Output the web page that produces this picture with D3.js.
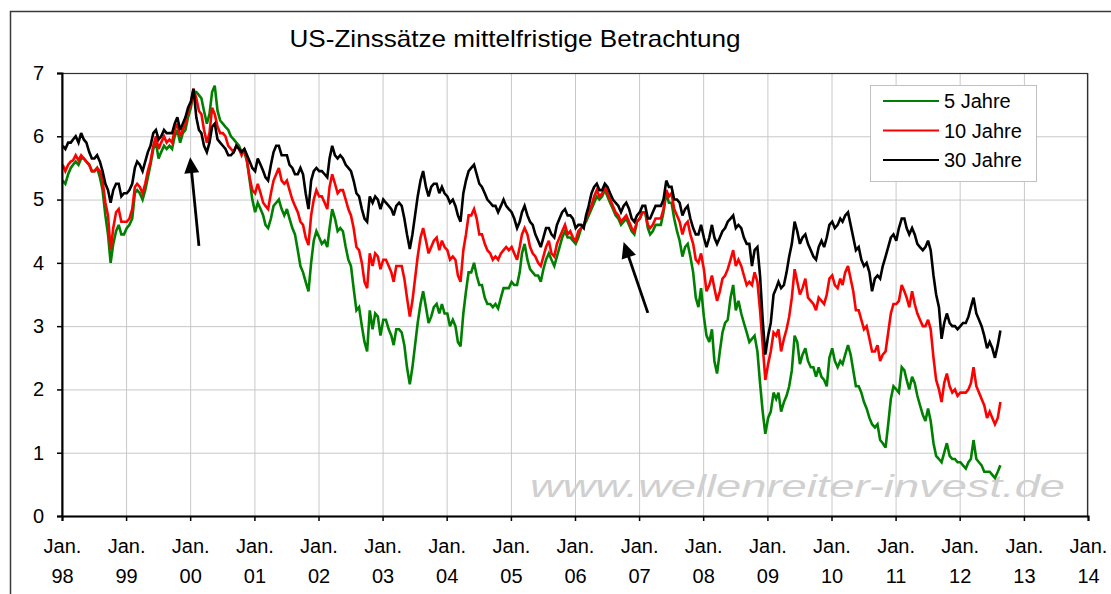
<!DOCTYPE html>
<html>
<head>
<meta charset="utf-8">
<script src="https://cdn.jsdelivr.net/npm/d3@7"></script>
<style>
  html, body { margin: 0; padding: 0; background: #fff; }
  svg { display: block; }
  text { font-family: "Liberation Sans", Arial, sans-serif; fill: #000; }
</style>
</head>
<body>
<svg id="chart" width="1111" height="594"></svg>
<script>
// ---- Data (half-monthly readings, ~5th and ~20th of each month, Jan 1998 - Aug 2012) ----
const title = "US-Zinssätze mittelfristige Betrachtung";
const seriesNames = ["5 Jahre", "10 Jahre", "30 Jahre"];
const startYear = 1998, endYear = 2014;
const lastDate = "2012-08-20";
const yTicks = [0, 1, 2, 3, 4, 5, 6, 7];
const xTickYears = [1998,1999,2000,2001,2002,2003,2004,2005,2006,2007,2008,2009,2010,2011,2012,2013,2014];
const xTickLabelTop = "Jan.";
const watermark = "www.wellenreiter-invest.de";

const y5 = [
 5.30,5.25, 5.40,5.50, 5.55,5.60, 5.55,5.65, 5.65,5.60, 5.55,5.45, 5.45,5.50, 5.35,5.15, 4.75,4.45, 4.00,4.30, 4.50,4.60, 4.45,4.45,
 4.55,4.60, 4.70,5.10, 5.15,5.10, 5.00,5.15, 5.35,5.55, 5.80,5.90, 5.65,5.75, 5.85,5.80, 5.85,5.80, 6.00,6.10, 5.90,6.05, 6.10,6.30,
 6.45,6.70, 6.70,6.65, 6.60,6.40, 6.20,6.35, 6.70,6.80, 6.40,6.25, 6.20,6.15, 6.10,6.00, 5.95,5.90, 5.85,5.75, 5.75,5.60, 5.30,5.00,
 4.80,4.95, 4.85,4.75, 4.60,4.55, 4.70,4.90, 4.95,5.00, 4.85,4.75, 4.85,4.70, 4.55,4.45, 4.20,3.95, 3.85,3.70, 3.55,4.00, 4.35,4.50,
 4.40,4.30, 4.35,4.25, 4.55,4.85, 4.70,4.50, 4.55,4.50, 4.25,4.05, 3.95,3.60, 3.25,3.30, 3.00,2.75, 2.60,3.25, 2.95,3.20, 3.15,2.85,
 3.10,3.10, 2.95,2.85, 2.70,2.95, 2.95,2.90, 2.70,2.35, 2.08,2.35, 2.70,3.05, 3.35,3.55, 3.30,3.05, 3.15,3.30, 3.35,3.20, 3.35,3.20,
 3.20,3.00, 3.10,3.00, 2.75,2.68, 3.20,3.55, 3.85,3.85, 4.00,3.80, 3.65,3.65, 3.45,3.35, 3.35,3.30, 3.35,3.28, 3.45,3.60, 3.60,3.60,
 3.70,3.65, 3.65,3.85, 4.15,4.30, 4.05,3.90, 3.85,3.80, 3.80,3.70, 3.90,4.05, 4.15,4.05, 3.95,4.10, 4.25,4.40, 4.50,4.40, 4.40,4.35,
 4.30,4.40, 4.55,4.60, 4.65,4.75, 4.85,4.95, 5.05,5.00, 5.05,5.15, 5.05,4.95, 4.85,4.75, 4.70,4.60, 4.65,4.70, 4.60,4.50, 4.45,4.65,
 4.70,4.80, 4.80,4.55, 4.45,4.50, 4.60,4.60, 4.60,4.80, 5.10,4.95, 4.95,4.70, 4.50,4.35, 4.10,4.25, 4.30,4.10, 3.85,3.45, 3.30,3.60,
 3.15,2.85, 2.75,2.95, 2.45,2.25, 2.60,2.90, 3.05,3.10, 3.45,3.65, 3.25,3.40, 3.20,3.05, 2.90,2.75, 2.80,2.85, 2.60,2.10, 1.65,1.30,
 1.55,1.65, 1.95,1.85, 1.95,1.65, 1.80,1.90, 2.05,2.30, 2.85,2.75, 2.40,2.55, 2.65,2.45, 2.35,2.35, 2.20,2.35, 2.20,2.15, 2.05,2.50,
 2.65,2.45, 2.35,2.45, 2.40,2.55, 2.70,2.55, 2.30,2.05, 2.05,1.95, 1.80,1.70, 1.55,1.45, 1.40,1.45, 1.20,1.15, 1.08,1.45, 1.85,2.05,
 2.00,1.95, 2.35,2.30, 2.15,2.00, 2.20,2.10, 1.90,1.75, 1.60,1.50, 1.70,1.50, 1.15,0.95, 0.90,0.85, 1.00,1.15, 0.95,0.90, 0.90,0.85,
 0.85,0.80, 0.75,0.85, 0.90,1.20, 0.90,0.85, 0.80,0.70, 0.70,0.70, 0.65,0.60, 0.70,0.80
];

const y10 = [
 5.55,5.45, 5.55,5.60, 5.62,5.70, 5.62,5.70, 5.65,5.60, 5.55,5.45, 5.45,5.50, 5.45,5.30, 4.95,4.75, 4.20,4.55, 4.80,4.85, 4.65,4.65,
 4.65,4.70, 4.85,5.20, 5.25,5.20, 5.10,5.25, 5.45,5.60, 5.85,6.00, 5.80,5.90, 6.00,5.90, 5.95,5.90, 6.10,6.20, 6.00,6.10, 6.20,6.40,
 6.50,6.75, 6.60,6.40, 6.35,6.10, 5.90,6.05, 6.45,6.35, 6.15,6.05, 6.05,6.00, 5.85,5.80, 5.75,5.85, 5.80,5.70, 5.80,5.60, 5.35,5.15,
 5.10,5.25, 5.10,4.95, 4.90,4.85, 5.10,5.30, 5.40,5.50, 5.30,5.25, 5.30,5.15, 5.00,4.90, 4.80,4.65, 4.60,4.40, 4.28,4.75, 5.00,5.15,
 5.05,5.05, 4.95,4.85, 5.20,5.40, 5.25,5.10, 5.15,5.15, 5.00,4.85, 4.75,4.55, 4.25,4.20, 4.00,3.70, 3.60,4.15, 3.95,4.15, 4.10,3.90,
 4.05,4.05, 3.95,3.85, 3.70,3.95, 3.95,3.95, 3.75,3.45, 3.15,3.40, 3.75,4.10, 4.40,4.55, 4.35,4.15, 4.25,4.35, 4.40,4.20, 4.35,4.25,
 4.20,4.05, 4.10,4.05, 3.80,3.70, 4.20,4.45, 4.75,4.75, 4.85,4.70, 4.45,4.45, 4.30,4.20, 4.15,4.05, 4.10,4.05, 4.15,4.20, 4.25,4.20,
 4.25,4.15, 4.05,4.25, 4.45,4.55, 4.45,4.25, 4.15,4.10, 4.00,3.95, 4.10,4.25, 4.35,4.15, 4.10,4.30, 4.40,4.50, 4.60,4.45, 4.50,4.40,
 4.35,4.50, 4.55,4.60, 4.70,4.80, 4.90,5.05, 5.15,5.05, 5.10,5.20, 5.10,5.00, 4.90,4.80, 4.75,4.65, 4.70,4.75, 4.65,4.55, 4.50,4.65,
 4.70,4.80, 4.80,4.60, 4.55,4.60, 4.70,4.70, 4.70,4.85, 5.15,5.05, 5.10,4.85, 4.75,4.65, 4.45,4.60, 4.65,4.45, 4.30,4.05, 4.00,4.15,
 3.90,3.55, 3.65,3.80, 3.60,3.40, 3.55,3.75, 3.80,3.90, 4.05,4.20, 3.95,4.05, 3.95,3.80, 3.65,3.70, 3.65,3.85, 3.70,3.25, 2.70,2.15,
 2.40,2.60, 2.90,2.85, 2.95,2.60, 2.80,2.95, 3.15,3.45, 3.90,3.70, 3.50,3.60, 3.75,3.45, 3.40,3.35, 3.25,3.45, 3.40,3.35, 3.50,3.75,
 3.80,3.65, 3.60,3.75, 3.65,3.85, 3.95,3.75, 3.55,3.25, 3.25,3.10, 2.95,3.00, 2.80,2.60, 2.60,2.70, 2.45,2.55, 2.60,2.90, 3.20,3.35,
 3.35,3.40, 3.65,3.55, 3.45,3.30, 3.55,3.35, 3.20,3.10, 3.00,3.00, 3.10,2.95, 2.50,2.15, 2.00,1.80, 2.10,2.25, 2.05,1.95, 2.00,1.90,
 1.95,1.95, 1.95,2.00, 2.10,2.35, 2.05,1.95, 1.85,1.75, 1.55,1.65, 1.55,1.45, 1.55,1.80
];

const y30 = [
 5.85,5.80, 5.90,5.90, 5.95,6.00, 5.90,6.05, 5.95,5.90, 5.75,5.65, 5.65,5.70, 5.60,5.45, 5.25,5.15, 4.95,5.15, 5.25,5.25, 5.05,5.10,
 5.10,5.15, 5.25,5.50, 5.60,5.55, 5.45,5.60, 5.75,5.85, 6.05,6.10, 5.95,6.00, 6.10,6.05, 6.05,6.05, 6.20,6.30, 6.10,6.20, 6.30,6.45,
 6.55,6.75, 6.30,6.10, 6.05,5.85, 5.75,5.90, 6.15,6.20, 5.95,5.90, 5.85,5.80, 5.70,5.70, 5.75,5.85, 5.80,5.75, 5.80,5.70, 5.60,5.50,
 5.45,5.65, 5.55,5.45, 5.35,5.30, 5.55,5.75, 5.85,5.85, 5.70,5.70, 5.70,5.55, 5.50,5.40, 5.40,5.50, 5.40,5.10, 4.85,5.30, 5.45,5.50,
 5.45,5.45, 5.40,5.35, 5.65,5.85, 5.70,5.65, 5.70,5.65, 5.55,5.50, 5.45,5.30, 5.10,5.05, 4.85,4.70, 4.65,5.05, 4.95,5.05, 5.00,4.85,
 5.00,4.95, 4.90,4.85, 4.75,4.90, 4.95,4.90, 4.70,4.45, 4.22,4.45, 4.75,5.05, 5.30,5.45, 5.20,5.05, 5.20,5.25, 5.25,5.10, 5.20,5.10,
 5.05,4.95, 5.00,4.90, 4.75,4.65, 5.10,5.30, 5.45,5.50, 5.55,5.40, 5.25,5.20, 5.10,5.00, 4.95,4.90, 4.90,4.80, 4.90,5.00, 4.90,4.85,
 4.80,4.70, 4.55,4.65, 4.80,4.90, 4.75,4.65, 4.60,4.45, 4.35,4.25, 4.40,4.55, 4.55,4.45, 4.40,4.60, 4.70,4.80, 4.85,4.75, 4.75,4.70,
 4.55,4.60, 4.60,4.55, 4.75,4.90, 5.10,5.20, 5.25,5.15, 5.15,5.25, 5.20,5.10, 5.00,4.95, 4.90,4.80, 4.90,4.95, 4.85,4.70, 4.65,4.75,
 4.80,4.90, 4.90,4.70, 4.70,4.80, 4.90,4.90, 4.90,5.00, 5.30,5.20, 5.20,5.00, 5.00,4.95, 4.75,4.85, 4.90,4.70, 4.55,4.45, 4.45,4.60,
 4.40,4.25, 4.40,4.60, 4.40,4.30, 4.40,4.50, 4.55,4.65, 4.70,4.75, 4.55,4.60, 4.55,4.40, 4.30,4.30, 3.95,4.20, 4.25,3.80, 3.10,2.55,
 2.85,3.05, 3.50,3.60, 3.70,3.60, 3.65,3.85, 4.10,4.30, 4.65,4.50, 4.30,4.40, 4.45,4.30, 4.20,4.10, 4.05,4.25, 4.35,4.25, 4.40,4.60,
 4.65,4.55, 4.60,4.70, 4.65,4.75, 4.80,4.60, 4.40,4.20, 4.25,4.05, 3.95,4.00, 3.85,3.55, 3.75,3.80, 3.75,3.95, 4.10,4.25, 4.40,4.45,
 4.35,4.55, 4.70,4.70, 4.55,4.45, 4.55,4.45, 4.30,4.25, 4.20,4.25, 4.35,4.20, 3.80,3.50, 3.30,2.80, 3.05,3.20, 3.05,3.00, 3.00,2.95,
 3.00,3.05, 3.05,3.15, 3.30,3.45, 3.20,3.10, 3.00,2.85, 2.65,2.75, 2.65,2.50, 2.70,2.93
];

// annotation arrows (in data units): [date, value]
const arrowTails = [["2000-02-20", 4.27], ["2007-02-20", 3.21]];
const arrowTips  = [["2000-01-01", 5.67], ["2006-10-05", 4.33]];

// ---- Build dates: 5th and 20th of each month ----
const parse = d3.timeParse("%Y-%m-%d");
const dates = [];
d3.timeMonth.range(new Date(startYear, 0, 1), d3.timeDay.offset(parse(lastDate), 1)).forEach(m => {
  dates.push(new Date(m.getFullYear(), m.getMonth(), 5));
  dates.push(new Date(m.getFullYear(), m.getMonth(), 20));
});

const svg = d3.select("#chart");
const plot = { left: 62, top: 73, right: 1088, bottom: 516 };

const x = d3.scaleTime()
  .domain([new Date(startYear, 0, 1), new Date(endYear, 0, 1)])
  .range([plot.left, plot.right]);
const y = d3.scaleLinear().domain([0, 7]).range([plot.bottom, plot.top]);

// outer frame (cropped in the reference)
svg.append("rect").attr("x", 10.5).attr("y", 11.5).attr("width", 1200).attr("height", 700)
  .attr("fill", "#fff").attr("stroke", "#3a3a3a").attr("stroke-width", 1.5);

// title
svg.append("text").attr("x", 515).attr("y", 46.5).attr("text-anchor", "middle")
  .attr("font-size", 24).attr("textLength", 451).attr("lengthAdjust", "spacingAndGlyphs")
  .text(title);

// gridlines
const grid = svg.append("g");
grid.append("g").attr("transform", `translate(0,${plot.bottom})`)
  .call(d3.axisBottom(x).tickValues(xTickYears.map(yr => new Date(yr, 0, 1)))
    .tickSize(-(plot.bottom - plot.top)).tickFormat(""))
  .call(g => g.select(".domain").remove())
  .call(g => g.selectAll("line").attr("stroke", "#c8c8c8").attr("stroke-width", 1));
grid.append("g").attr("transform", `translate(${plot.left},0)`)
  .call(d3.axisLeft(y).tickValues(yTicks).tickSize(-(plot.right - plot.left)).tickFormat(""))
  .call(g => g.select(".domain").remove())
  .call(g => g.selectAll("line").attr("stroke", "#c8c8c8").attr("stroke-width", 1));

// plot frame (top/right)
svg.append("rect").attr("x", plot.left).attr("y", plot.top + 0.5)
  .attr("width", plot.right - plot.left - 0.5).attr("height", plot.bottom - plot.top)
  .attr("fill", "none").attr("stroke", "#303030").attr("stroke-width", 1.2);

// watermark
svg.append("text").attr("x", 530).attr("y", 497)
  .attr("font-size", 32).attr("font-style", "italic")
  .attr("textLength", 535).attr("lengthAdjust", "spacingAndGlyphs")
  .style("fill", "#d0d0d0").text(watermark);

// lines
const series = [
  { name: seriesNames[0], values: y5, color: "#008000" },
  { name: seriesNames[1], values: y10, color: "#ff0000" },
  { name: seriesNames[2], values: y30, color: "#000000" }
];
const line = d3.line().x((d, i) => x(dates[i])).y(d => y(d));
series.forEach(s => {
  svg.append("path").datum(s.values).attr("d", line)
    .attr("fill", "none").attr("stroke", s.color).attr("stroke-width", 2.6)
    .attr("stroke-linejoin", "miter").attr("stroke-miterlimit", 3);
});

// axes
const yAxis = svg.append("g").attr("transform", `translate(${plot.left},0)`)
  .call(d3.axisLeft(y).tickValues(yTicks).tickSize(5).tickPadding(13).tickFormat(d3.format("d")));
yAxis.select(".domain").attr("stroke", "#000").attr("stroke-width", 2);
yAxis.selectAll(".tick line").attr("stroke", "#000").attr("stroke-width", 1.5);
yAxis.selectAll("text").attr("font-size", 20).style("font-family", "Liberation Sans, Arial, sans-serif");

const xAxis = svg.append("g").attr("transform", `translate(0,${plot.bottom})`)
  .call(d3.axisBottom(x).tickValues(xTickYears.map(yr => new Date(yr, 0, 1))).tickSize(5).tickFormat(""));
xAxis.select(".domain").attr("stroke", "#000").attr("stroke-width", 2);
xAxis.selectAll(".tick line").attr("stroke", "#000").attr("stroke-width", 1.5);
xAxis.selectAll(".tick").append("text")
  .attr("y", 37).attr("font-size", 20).attr("text-anchor", "middle").style("fill", "#000")
  .style("font-family", "Liberation Sans, Arial, sans-serif")
  .text(xTickLabelTop);
xAxis.selectAll(".tick").append("text")
  .attr("y", 67).attr("font-size", 20).attr("text-anchor", "middle").style("fill", "#000")
  .style("font-family", "Liberation Sans, Arial, sans-serif")
  .text(d => String(d.getFullYear()).slice(2));

// arrows
arrowTails.forEach((t, i) => {
  const tip = arrowTips[i];
  const x1 = x(parse(t[0])), y1 = y(t[1]);
  const x2 = x(parse(tip[0])), y2 = y(tip[1]);
  const dx = x2 - x1, dy = y2 - y1, len = Math.hypot(dx, dy);
  const ux = dx / len, uy = dy / len;
  const hl = 16, hw = 7.5;
  const bx = x2 - ux * hl, by = y2 - uy * hl;
  svg.append("line").attr("x1", x1).attr("y1", y1).attr("x2", bx + ux * 2).attr("y2", by + uy * 2)
    .attr("stroke", "#000").attr("stroke-width", 2.8);
  svg.append("path")
    .attr("d", `M${x2},${y2} L${bx - uy * hw},${by + ux * hw} L${bx + uy * hw},${by - ux * hw} Z`)
    .attr("fill", "#000");
});

// legend
const lg = svg.append("g");
lg.append("rect").attr("x", 870.5).attr("y", 85.5).attr("width", 166).attr("height", 96)
  .attr("fill", "#fff").attr("stroke", "#c0c0c0").attr("stroke-width", 1);
series.forEach((s, i) => {
  const ly = 101 + i * 29.5;
  lg.append("line").attr("x1", 883).attr("x2", 939).attr("y1", ly).attr("y2", ly)
    .attr("stroke", s.color).attr("stroke-width", 2);
  lg.append("text").attr("x", 944).attr("y", ly + 7).attr("font-size", 20).text(s.name);
});
</script>
</body>
</html>
